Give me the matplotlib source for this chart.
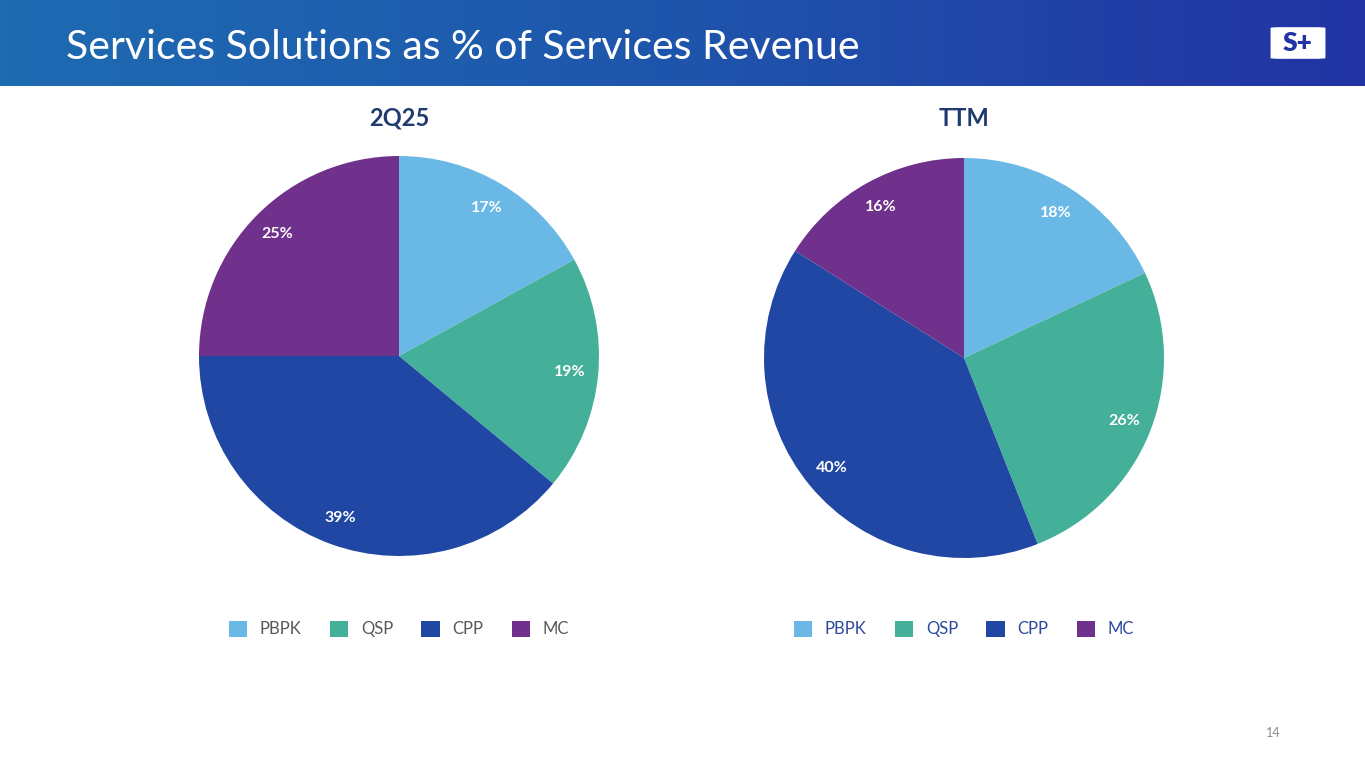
import numpy as np
import matplotlib.pyplot as plt
from matplotlib.patches import Patch, FancyBboxPatch
from matplotlib.colors import LinearSegmentedColormap

plt.rcParams['font.family'] = ['Lato', 'DejaVu Sans']

segments = ["PBPK", "QSP", "CPP", "MC"]
q_values = [17, 19, 39, 25]
ttm_values = [18, 26, 40, 16]
colors = ["#69B8E6", "#45B09A", "#1F47A3", "#70318C"]

W, H = 1365, 768
fig = plt.figure(figsize=(W / 100, H / 100), dpi=100)
fig.patch.set_facecolor("white")

# header band with a left-to-right blue gradient
hdr = fig.add_axes([0, 1 - 86 / H, 1, 86 / H])
grad = np.linspace(0, 1, 256).reshape(1, -1)
cmap = LinearSegmentedColormap.from_list("hdr", ["#1E6BB2", "#1F55AC", "#2233A3"])
hdr.imshow(grad, aspect="auto", cmap=cmap, extent=[0, 1, 0, 1])
hdr.set_xlim(0, 1)
hdr.set_ylim(0, 1)
hdr.axis("off")
hdr.text(66 / W, 0.45, "Services Solutions as % of Services Revenue", color="white",
         fontsize=29.5, va="center", ha="left", transform=hdr.transAxes)

# logo
logo = FancyBboxPatch((1276 / W, 0.32), 44 / W, 0.36, boxstyle="round,pad=0.004,rounding_size=0.008",
                      transform=hdr.transAxes, facecolor="white", edgecolor="none")
hdr.add_patch(logo)
hdr.text(1298 / W, 0.50, "S+", color="#2233A3", fontsize=19, fontweight="heavy",
         ha="center", va="center", transform=hdr.transAxes)


def draw_pie(cx, cy, values, title, legend_color):
    r = 200
    ax = fig.add_axes([(cx - r) / W, 1 - (cy + r) / H, 2 * r / W, 2 * r / H])
    wedges, texts = ax.pie(values, colors=colors, startangle=90, counterclock=False,
                           labels=[f"{v}%" for v in values], labeldistance=0.86,
                           wedgeprops=dict(linewidth=0))
    for t in texts:
        t.set_color("white")
        t.set_fontsize(11.5)
        t.set_fontweight("bold")
        t.set_ha("center")
        t.set_va("center")
    ax.set_xlim(-1, 1)
    ax.set_ylim(-1, 1)
    ax.set_aspect("equal")
    fig.text(cx / W, 1 - 118 / H, title, ha="center", va="center", fontsize=17,
             fontweight="bold", color="#1F3A6E")
    handles = [Patch(facecolor=c, edgecolor="none") for c in colors]
    leg = fig.legend(handles, segments, loc="center", bbox_to_anchor=(cx / W, 1 - 629 / H),
                     ncol=4, frameon=False, fontsize=12, handlelength=1.1, handleheight=1.1,
                     columnspacing=1.7, handletextpad=0.75)
    for t in leg.get_texts():
        t.set_color(legend_color)


draw_pie(399, 356, q_values, "2Q25", "#595959")
draw_pie(964, 358, ttm_values, "TTM", "#2E4A9E")

fig.text(1273 / W, 1 - 733 / H, "14", ha="center", va="center", fontsize=9, color="#8C8C8C")

fig.savefig("out.png", dpi=100)
